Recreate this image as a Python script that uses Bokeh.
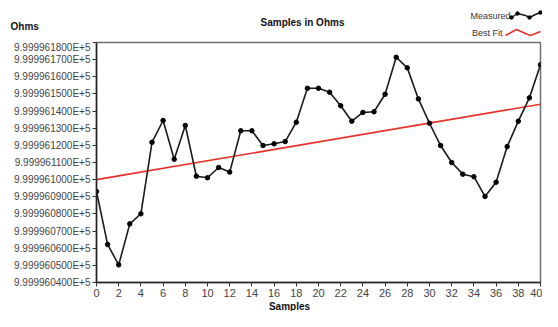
from bokeh.plotting import figure
from bokeh.layouts import column
from bokeh.models import FixedTicker, CustomJSTickFormatter, Range1d
from bokeh.core.properties import value
from bokeh.embed import file_html
from bokeh.resources import INLINE

# ---- data ----
samples = list(range(0, 41))
measured = [999996.0931, 999996.0622, 999996.0503, 999996.0742, 999996.0801,
            999996.1218, 999996.1345, 999996.1119, 999996.1316, 999996.1020,
            999996.1011, 999996.1071, 999996.1044, 999996.1285, 999996.1285,
            999996.1199, 999996.1209, 999996.1222, 999996.1335, 999996.1533,
            999996.1533, 999996.1510, 999996.1431, 999996.1341, 999996.1392,
            999996.1396, 999996.1498, 999996.1714, 999996.1652, 999996.1471,
            999996.1329, 999996.1199, 999996.1100, 999996.1032, 999996.1017,
            999996.0902, 999996.0985, 999996.1193, 999996.1341, 999996.1477,
            999996.1670]
fit_x = [0, 40]
fit_y = [999996.1000, 999996.1440]
y_ticks = [999996.04, 999996.05, 999996.06, 999996.07, 999996.08, 999996.09,
           999996.10, 999996.11, 999996.12, 999996.13, 999996.14, 999996.15,
           999996.16, 999996.17, 999996.18]
x_ticks = list(range(0, 41, 2))
title_text = "Samples in Ohms"
y_label = "Ohms"
x_label = "Samples"
series_names = ["Measured", "Best Fit"]

FONT = "Liberation Sans"
W = 542
TOP_H, MAIN_H, BOT_H = 41, 259, 11
BL, BR, BT, BB = 96, 2, 1, 18
BLACK, RED = "#1a1a1a", "#e8302a"


def blank(h):
    f = figure(width=W, height=h, output_backend="svg", toolbar_location=None,
               x_range=Range1d(0, W), y_range=Range1d(h, 0),
               x_axis_type=None, y_axis_type=None,
               min_border=0, min_border_left=0, min_border_right=0,
               min_border_top=0, min_border_bottom=0)
    f.frame_align = False
    f.outline_line_color = None
    f.grid.visible = False
    f.background_fill_color = "white"
    f.border_fill_color = "white"
    return f


def txt(f, x, y, t, size="10px", bold=False, align="center", color="#111111"):
    f.text([x], [y], text=[t], text_font=value(FONT), text_font_size=size,
           text_font_style="bold" if bold else "normal",
           text_align=align, text_baseline="middle", text_color=color)


# ---- header: title, y label, legend ----
top = blank(TOP_H)
txt(top, 302, 22, title_text, size="10px", bold=True)
txt(top, 10, 26, y_label, size="10px", bold=True, align="left")
txt(top, 510, 15, series_names[0], size="9px", align="right", color="#333333")
txt(top, 502, 32, series_names[1], size="9px", align="right", color="#333333")
mi_x, mi_y = [511, 517, 525, 529, 535, 540], [17, 13, 15, 17, 14, 12]
top.line(mi_x, mi_y, line_color=BLACK, line_width=1.5)
top.scatter([511, 517, 529, 540], [17, 13, 17, 12], size=3.5, color="#000000")
ri_x, ri_y = [505, 516, 525, 530, 540], [35, 29, 33, 35, 31]
top.line(ri_x, ri_y, line_color=RED, line_width=1.5)

# ---- main chart ----
p = figure(width=W, height=MAIN_H, output_backend="svg", toolbar_location=None,
           x_range=Range1d(0, 40), y_range=Range1d(y_ticks[0], y_ticks[-1]),
           min_border_left=BL, min_border_right=BR, min_border_top=BT,
           min_border_bottom=BB)
p.background_fill_color = "white"
p.border_fill_color = "white"
p.outline_line_color = "#707070"
p.outline_line_width = 1.5
p.grid.visible = False

for ax in (p.xaxis[0], p.yaxis[0]):
    ax.axis_line_color = "#222222"
    ax.axis_line_width = 1.5
    ax.major_tick_line_color = "#333333"
    ax.major_tick_in = 0
    ax.major_tick_out = 4
    ax.minor_tick_line_color = None
    ax.major_label_text_font = FONT
    ax.major_label_text_font_size = "10px"
    ax.major_label_text_color = "#444444"
    ax.major_label_standoff = 2

p.yaxis[0].ticker = FixedTicker(ticks=y_ticks)
p.yaxis[0].formatter = CustomJSTickFormatter(
    code="return (tick/1e5).toFixed(9) + 'E+5';")
p.xaxis[0].ticker = FixedTicker(ticks=x_ticks)
p.xaxis[0].major_label_text_font_size = "11px"

p.line(fit_x, fit_y, line_color=RED, line_width=1.6)
p.line(samples, measured, line_color=BLACK, line_width=1.6)
p.scatter(samples, measured, size=4.5, color="#000000")

# ---- footer: x label ----
bot = blank(BOT_H)
txt(bot, 289, 5, x_label, size="10px", bold=True)

layout = column(top, p, bot, spacing=0)
open("out.html", "w").write(file_html(layout, INLINE))
